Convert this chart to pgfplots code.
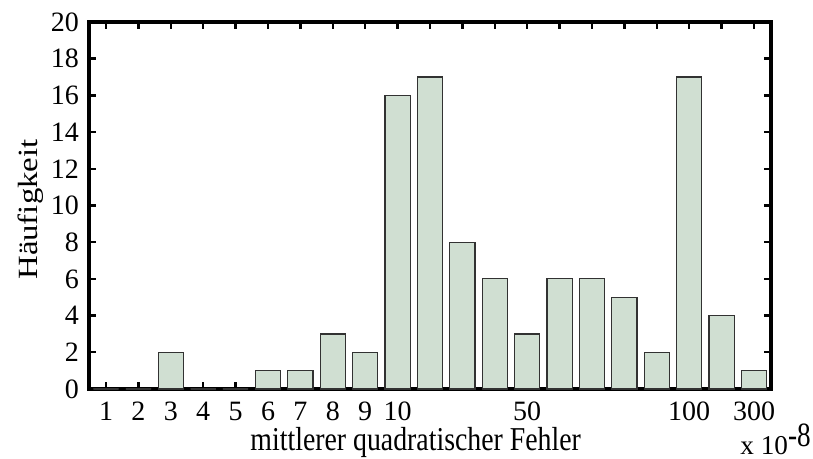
\documentclass[border=0pt]{standalone}
\usepackage{pgfplots}
\pgfplotsset{compat=1.18}
\usepackage{fontspec}
\setmainfont{Liberation Serif}
\definecolor{barfill}{RGB}{208,223,210}
\definecolor{baredge}{RGB}{50,50,50}
\begin{document}
\begin{tikzpicture}
\useasboundingbox (-44.5pt,-35pt) rectangle (362pt,194.5pt);
\begin{axis}[
  at={(0,0)}, anchor=south west,
  scale only axis,
  width=341pt, height=183.5pt,
  xmin=0.475, xmax=21.525,
  ymin=0, ymax=20,
  xtick={1,...,21},
  xticklabels={1,2,3,4,5,6,7,8,9,10,,,,50,,,,,100,,300},
  ytick={0,2,...,20},
  tick align=inside,
  major tick length=3.5pt,
  axis line style={line width=1.8pt},
  every tick/.style={line width=1.2pt, black},
  /pgf/number format/assume math mode=true,
  tick label style={font=\fontsize{14}{16}\selectfont},
  xticklabel style={yshift=-3pt},
  yticklabel style={xshift=-1.5pt},
  ylabel={\scalebox{1.18}[1]{Häufigkeit}},
  xlabel={\scalebox{1}[1.2]{mittlerer quadratischer Fehler}},
  label style={font=\fontsize{13.9}{17}\selectfont},
  xlabel style={at={(axis description cs:0.479,0)}, anchor=base, yshift=-31pt},
  ylabel style={at={(axis description cs:-0.0762,0.489)}, anchor=base},
  clip=false,
]
\addplot[ybar, bar width=0.78, fill=barfill, draw=baredge, line width=0.6pt] coordinates {
(1,0) (2,0) (3,2) (4,0) (5,0) (6,1) (7,1) (8,3) (9,2) (10,16)
(11,17) (12,8) (13,6) (14,3) (15,6) (16,6) (17,5) (18,2) (19,17) (20,4) (21,1)
};
\end{axis}
\node[anchor=base west, inner sep=0pt, font=\fontsize{13.6}{16}\selectfont] at (325.5pt,-33pt) {x 10\raisebox{4pt}{\scalebox{1}[1.25]{-8}}};
\end{tikzpicture}
\end{document}
